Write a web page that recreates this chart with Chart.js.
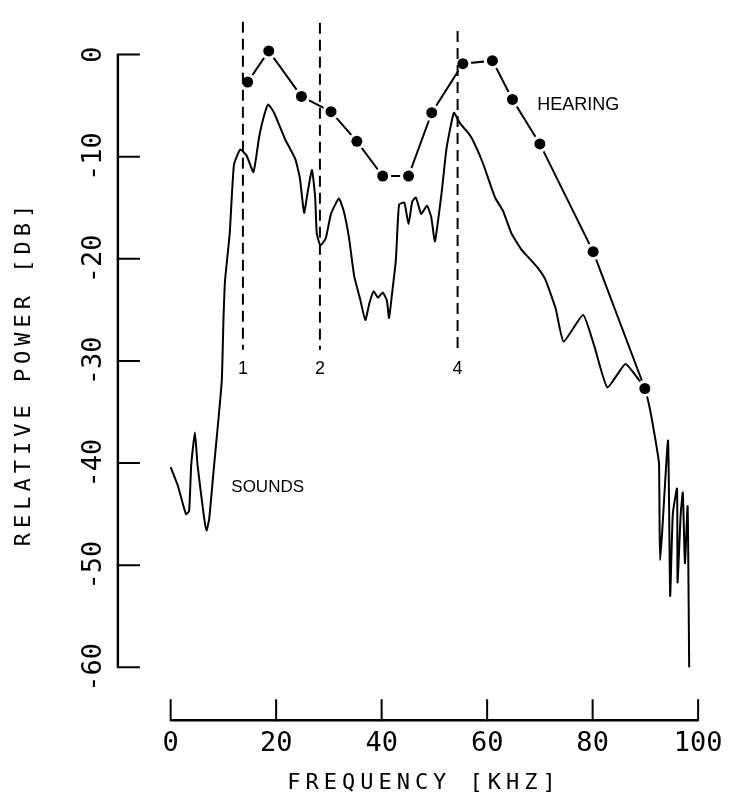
<!DOCTYPE html>
<html>
<head>
<meta charset="utf-8">
<script src="https://cdn.jsdelivr.net/npm/chart.js@4/dist/chart.umd.min.js"></script>
<style>
  html, body { margin: 0; padding: 0; background: #fff; }
  #wrap { width: 734px; height: 804px; }
</style>
</head>
<body>
<div id="wrap"><canvas id="c" width="734" height="804"></canvas></div>
<script>
// ---- Data ----
const soundsFreq = [0.0, 1.35, 2.9, 3.5, 3.9, 4.6, 5.1, 6.3, 6.8, 7.3, 8.1, 9.1, 9.7, 10.0, 10.3, 11.2, 12.0, 13.2, 14.4, 15.7, 16.8, 17.7, 18.5, 19.6, 21.7, 23.6, 24.5, 25.3, 26.0, 26.8, 27.4, 27.7, 28.4, 29.4, 30.4, 31.9, 32.8, 33.8, 34.8, 35.9, 36.9, 37.7, 38.5, 39.3, 40.2, 41.0, 41.4, 42.0, 42.7, 43.3, 44.3, 45.1, 45.8, 46.5, 47.5, 48.6, 49.4, 50.1, 51.4, 52.3, 53.7, 54.8, 56.3, 57.2, 59.1, 61.5, 63.0, 64.6, 66.5, 69.3, 71.0, 73.0, 74.5, 78.2, 80.4, 82.8, 86.2, 88.7, 89.9, 90.9, 91.8, 92.4, 92.6, 92.7, 92.8, 93.2, 94.3, 94.7, 95.2, 96.0, 96.1, 96.7, 97.1, 97.5, 98.0, 98.1, 98.3];
const soundsPower = [-40.4, -42.2, -45.0, -44.7, -40.2, -37.0, -40.2, -45.2, -46.6, -45.5, -41.0, -35.5, -31.9, -26.2, -22.2, -17.5, -10.8, -9.3, -9.9, -11.5, -8.0, -6.0, -4.9, -5.7, -8.3, -10.2, -12.1, -15.5, -13.4, -11.3, -14.0, -17.5, -18.7, -18.0, -15.6, -14.1, -15.3, -17.9, -21.7, -23.9, -26.0, -24.3, -23.2, -23.8, -23.3, -24.1, -25.8, -23.3, -20.1, -14.7, -14.5, -16.6, -14.4, -14.0, -15.6, -14.8, -15.9, -18.3, -13.4, -9.2, -5.7, -6.7, -7.6, -8.3, -10.5, -14.0, -15.3, -17.5, -19.1, -20.7, -22.0, -24.9, -28.1, -25.5, -28.7, -32.6, -30.3, -31.8, -32.7, -34.8, -37.4, -39.3, -40.2, -46.6, -49.5, -46.6, -37.8, -53.0, -45.0, -42.5, -51.7, -45.0, -42.9, -49.8, -44.2, -47.3, -60.0];

const hearingFreq = [14.6, 18.6, 24.8, 30.4, 35.3, 40.2, 45.1, 49.5, 55.4, 61.0, 64.8, 70.0, 80.1, 89.9];
const hearingPower = [-2.7, 0.35, -4.1, -5.6, -8.5, -11.9, -11.9, -5.7, -0.9, -0.6, -4.4, -8.75, -19.3, -32.7];

const markerFreq = [13.7, 28.3, 54.4];
const markerTop = [3.2, 3.1, 2.3];
const markerBottom = [-28.9, -28.9, -28.9];
const markerLabels = ["1", "2", "4"];

const xTicks = [0, 20, 40, 60, 80, 100];
const xTickLabels = ["0", "20", "40", "60", "80", "100"];
const yTicks = [0, -10, -20, -30, -40, -50, -60];
const yTickLabels = ["0", "-10", "-20", "-30", "-40", "-50", "-60"];

const xTitle = "FREQUENCY [KHZ]";
const yTitle = "RELATIVE POWER [DB]";
const soundsLabel = "SOUNDS";
const hearingLabel = "HEARING";

// ---- Layout / style ----
const X_MIN = -30.74, X_MAX = 105.19;
const Y_MIN = -72.55, Y_MAX = 4.505;
const X_AXIS_AT = -65.18;   // dB value where the frequency axis sits
const Y_AXIS_AT = -10.0;    // kHz value where the power axis sits
const AXIS_FONT = '"DejaVu Sans Mono", monospace';
const LABEL_FONT = '"Liberation Sans", Arial, sans-serif';

const pts = (xs, ys) => xs.map((v, i) => ({ x: v, y: ys[i] }));

const markerSets = markerFreq.map((f, i) => ({
  data: [{ x: f, y: markerTop[i] }, { x: f, y: markerBottom[i] }],
  showLine: true, borderColor: '#000', borderWidth: 2, borderDash: [11, 6],
  pointRadius: 0, order: 1
}));

const annotatePlugin = {
  id: 'annotate',
  afterDatasetsDraw(chart) {
    const { ctx, scales: { x, y } } = chart;
    ctx.save();
    ctx.strokeStyle = '#000';
    ctx.fillStyle = '#000';
    const axY = y.getPixelForValue(X_AXIS_AT);
    const axX = x.getPixelForValue(Y_AXIS_AT);

    // frequency axis
    ctx.lineWidth = 2.4;
    ctx.beginPath();
    ctx.moveTo(x.getPixelForValue(xTicks[0]), axY);
    ctx.lineTo(x.getPixelForValue(xTicks[xTicks.length - 1]), axY);
    ctx.stroke();
    ctx.lineWidth = 2;
    ctx.beginPath();
    xTicks.forEach(t => {
      const px = x.getPixelForValue(t);
      ctx.moveTo(px, axY + 1); ctx.lineTo(px, axY - 21);
    });
    ctx.stroke();

    // power axis
    ctx.lineWidth = 2.4;
    ctx.beginPath();
    ctx.moveTo(axX, y.getPixelForValue(yTicks[0]));
    ctx.lineTo(axX, y.getPixelForValue(yTicks[yTicks.length - 1]));
    ctx.stroke();
    ctx.lineWidth = 2;
    ctx.beginPath();
    yTicks.forEach(t => {
      const py = y.getPixelForValue(t);
      ctx.moveTo(axX - 1, py); ctx.lineTo(axX + 22, py);
    });
    ctx.stroke();

    // tick labels
    ctx.font = '27px ' + AXIS_FONT;
    ctx.textAlign = 'center';
    ctx.textBaseline = 'middle';
    xTicks.forEach((t, i) => {
      ctx.fillText(xTickLabels[i], x.getPixelForValue(t), axY + 24);
    });
    yTicks.forEach((t, i) => {
      ctx.save();
      ctx.translate(axX - 24, y.getPixelForValue(t));
      ctx.rotate(-Math.PI / 2);
      ctx.fillText(yTickLabels[i], 0, 0);
      ctx.restore();
    });

    // axis titles
    ctx.font = '22px ' + AXIS_FONT;
    ctx.letterSpacing = '5px';
    ctx.fillText(xTitle, 424, axY + 63);
    ctx.save();
    ctx.translate(24, 373);
    ctx.rotate(-Math.PI / 2);
    ctx.fillText(yTitle, 0, 0);
    ctx.restore();
    ctx.letterSpacing = '0px';

    // curve labels
    ctx.font = '18px ' + LABEL_FONT;
    ctx.textAlign = 'left';
    ctx.fillText(hearingLabel, x.getPixelForValue(69.5), y.getPixelForValue(-4.9));
    ctx.font = '17px ' + LABEL_FONT;
    ctx.fillText(soundsLabel, x.getPixelForValue(11.5), y.getPixelForValue(-42.4));

    // marker numbers
    ctx.font = '18px ' + LABEL_FONT;
    ctx.textAlign = 'center';
    markerFreq.forEach((f, i) => {
      ctx.fillText(markerLabels[i], x.getPixelForValue(f), y.getPixelForValue(-30.8));
    });
    ctx.restore();
  }
};

new Chart(document.getElementById('c'), {
  type: 'scatter',
  data: {
    datasets: [
      ...markerSets,
      { // hearing dots
        data: pts(hearingFreq, hearingPower), showLine: false,
        pointRadius: 5.5, pointBackgroundColor: '#000', pointBorderWidth: 0, order: 2
      },
      { // white halo around hearing dots
        data: pts(hearingFreq, hearingPower), showLine: false,
        pointRadius: 8.5, pointBackgroundColor: '#fff', pointBorderWidth: 0, order: 3
      },
      { // hearing line
        data: pts(hearingFreq, hearingPower), showLine: true,
        borderColor: '#000', borderWidth: 2, pointRadius: 0, tension: 0, order: 4
      },
      { // sounds spectrum
        data: pts(soundsFreq, soundsPower), showLine: true,
        borderColor: '#000', borderWidth: 2, pointRadius: 0, tension: 0.15, order: 5
      }
    ]
  },
  options: {
    responsive: false,
    animation: false,
    devicePixelRatio: 1,
    events: [],
    layout: { padding: 0 },
    plugins: { legend: { display: false }, tooltip: { enabled: false } },
    scales: {
      x: { type: 'linear', min: X_MIN, max: X_MAX, display: false },
      y: { type: 'linear', min: Y_MIN, max: Y_MAX, display: false }
    }
  },
  plugins: [annotatePlugin]
});
</script>
</body>
</html>
